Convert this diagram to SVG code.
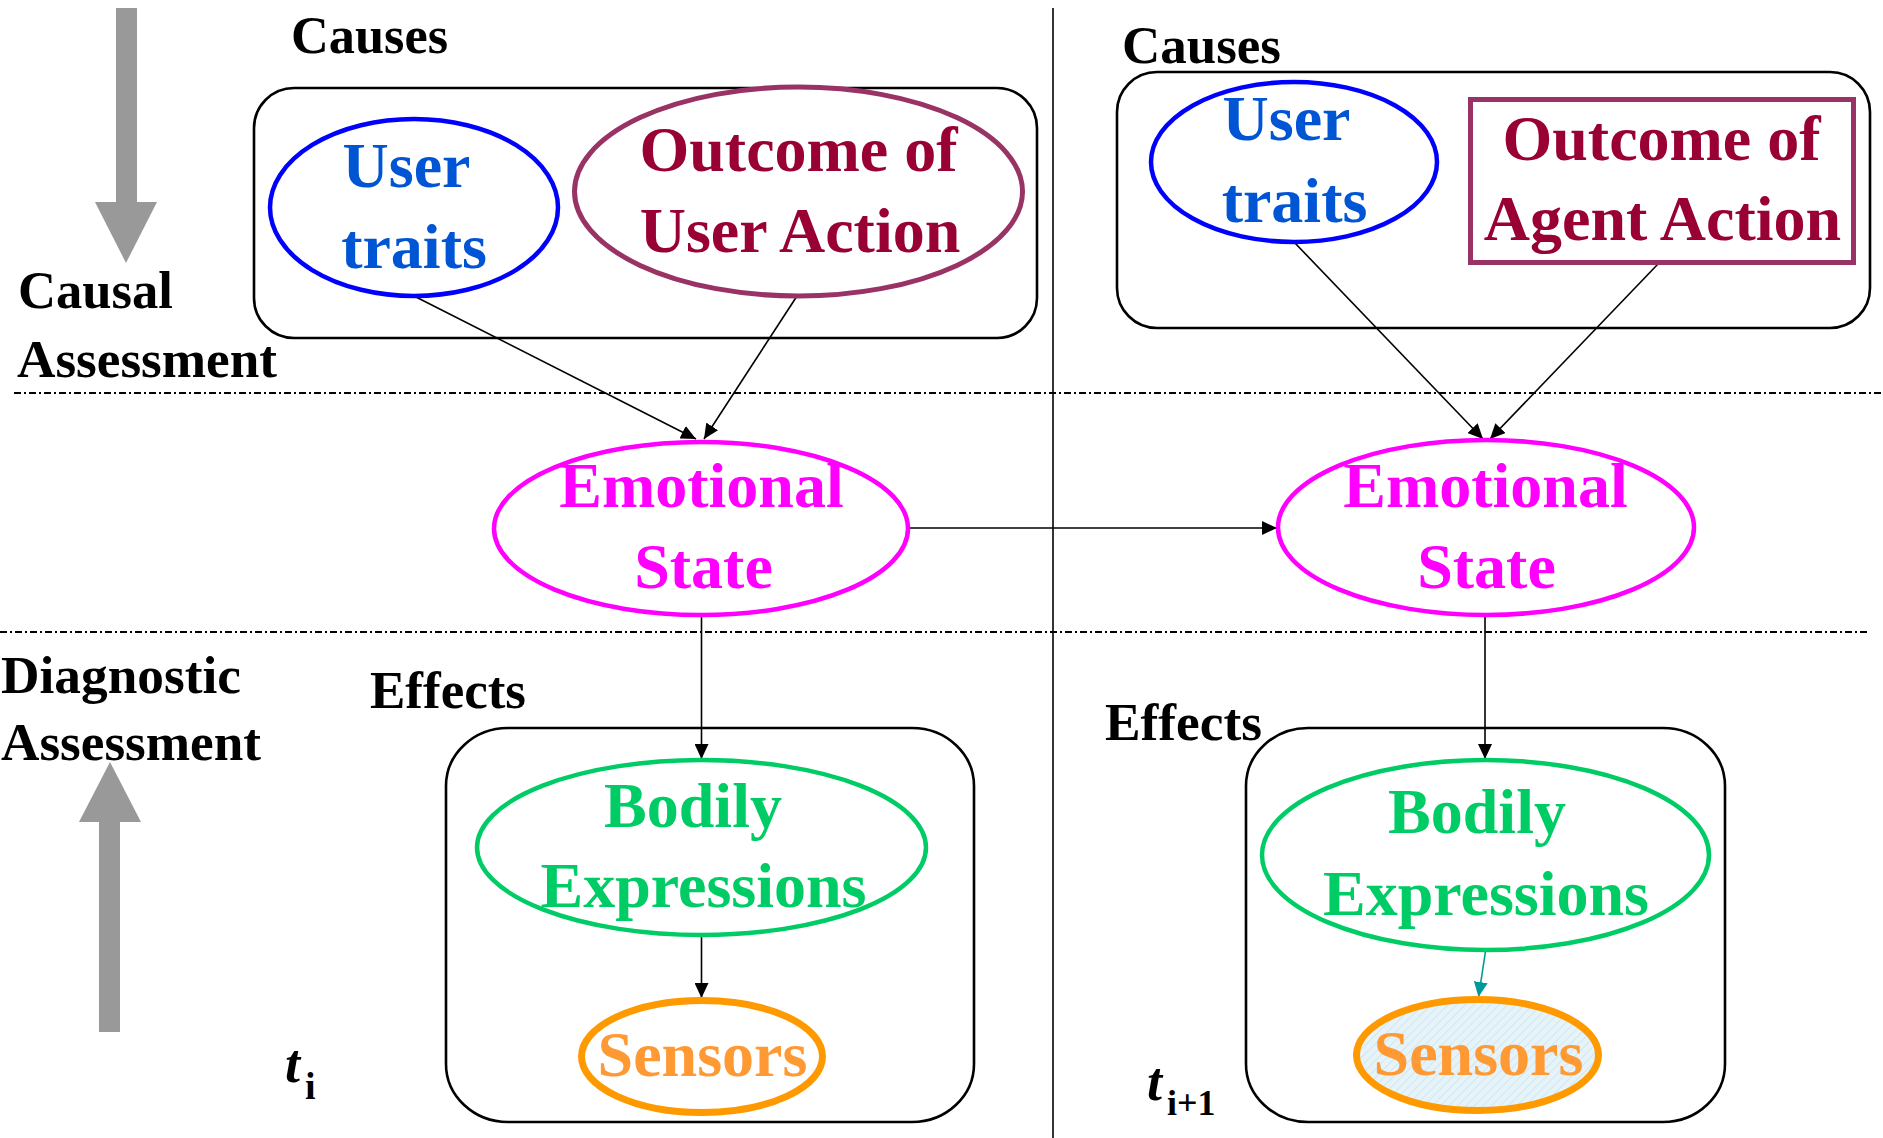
<svg xmlns="http://www.w3.org/2000/svg" width="1883" height="1138" viewBox="0 0 1883 1138">
  <style>
    text { font-family: "Liberation Serif", "Times New Roman", serif; font-weight: bold; }
    .lbl { font-size: 53px; fill: #000; }
    .node { font-size: 64px; text-anchor: middle; }
    .box { fill: none; stroke: #000; stroke-width: 2.6; }
    .edge { fill: none; stroke: #000; stroke-width: 1.6; }
    .sep { fill: none; stroke: #000; stroke-width: 2; stroke-dasharray: 7 3 2 3; }
    .trait { fill: #fff; stroke: #0000FF; stroke-width: 4.5; }
    .trait-t { fill: #0055D4; }
    .outcome { fill: #fff; stroke: #993366; stroke-width: 5; }
    .outcome-t { fill: #990033; }
    .emo { fill: #fff; stroke: #FF00FF; stroke-width: 4.5; }
    .emo-t { fill: #FF00FF; }
    .body { fill: #fff; stroke: #00CC66; stroke-width: 4.5; }
    .body-t { fill: #00CC66; }
    .sensor { fill: #fff; stroke: #FF9900; stroke-width: 7; }
    .sensor-t { fill: #FF9933; }
  </style>
  <defs>
    <marker id="arrow" markerUnits="userSpaceOnUse" markerWidth="16" markerHeight="14" refX="15" refY="7" orient="auto">
      <path d="M0,0 L15,7 L0,14 z" fill="#000"/>
    </marker>
    <marker id="arrow-teal" markerUnits="userSpaceOnUse" markerWidth="16" markerHeight="14" refX="15" refY="7" orient="auto">
      <path d="M0,0 L15,7 L0,14 z" fill="#009999"/>
    </marker>
    <pattern id="hatch" patternUnits="userSpaceOnUse" width="6" height="6" patternTransform="rotate(45)">
      <rect width="6" height="6" fill="#E6F3F9"/>
      <line x1="0" y1="0" x2="0" y2="6" stroke="#C9E3EF" stroke-width="1.5"/>
    </pattern>
  </defs>

  <rect width="1883" height="1138" fill="#fff"/>

  <!-- direction arrows in the margin -->
  <g id="causal-direction" fill="#999999">
    <rect x="116" y="8" width="21" height="195"/>
    <polygon points="95,202 157,202 126,263"/>
  </g>
  <g id="diagnostic-direction" fill="#999999">
    <rect x="99" y="821" width="21" height="211"/>
    <polygon points="79,822 141,822 110,762"/>
  </g>

  <!-- time slice divider and assessment separators -->
  <g id="guides">
    <line x1="1053" y1="8" x2="1053" y2="1138" stroke="#000" stroke-width="1.6"/>
    <line class="sep" x1="14" y1="393" x2="1883" y2="393"/>
    <line class="sep" x1="0" y1="632" x2="1870" y2="632"/>
  </g>

  <!-- side labels -->
  <g id="labels">
    <text class="lbl" x="291" y="53" textLength="157" lengthAdjust="spacingAndGlyphs">Causes</text>
    <text class="lbl" x="1122" y="63" textLength="159" lengthAdjust="spacingAndGlyphs">Causes</text>
    <text class="lbl" x="18" y="308" textLength="155" lengthAdjust="spacingAndGlyphs">Causal</text>
    <text class="lbl" x="17" y="377" textLength="260" lengthAdjust="spacingAndGlyphs">Assessment</text>
    <text class="lbl" x="1" y="693" textLength="240" lengthAdjust="spacingAndGlyphs">Diagnostic</text>
    <text class="lbl" x="1" y="760" textLength="260" lengthAdjust="spacingAndGlyphs">Assessment</text>
    <text class="lbl" x="370" y="708" textLength="156" lengthAdjust="spacingAndGlyphs">Effects</text>
    <text class="lbl" x="1105" y="740" textLength="157" lengthAdjust="spacingAndGlyphs">Effects</text>
    <text x="285" y="1082" font-size="54" font-style="italic">t</text>
    <text x="305" y="1099" font-size="38">i</text>
    <text x="1147" y="1100" font-size="54" font-style="italic">t</text>
    <text x="1167" y="1115" font-size="36">i+1</text>
  </g>

  <!-- grouping boxes -->
  <g id="causes-box-ti"><rect class="box" x="254" y="88" width="783" height="250" rx="40" ry="40"/></g>
  <g id="causes-box-ti1"><rect class="box" x="1117" y="72" width="753" height="256" rx="40" ry="40"/></g>
  <g id="effects-box-ti"><rect class="box" x="446" y="728" width="528" height="394" rx="62" ry="58"/></g>
  <g id="effects-box-ti1"><rect class="box" x="1246" y="728" width="479" height="394" rx="62" ry="58"/></g>

  <!-- connectors -->
  <g id="connectors">
    <line class="edge" x1="414" y1="296" x2="696" y2="439" marker-end="url(#arrow)"/>
    <line class="edge" x1="797" y1="296" x2="704" y2="439" marker-end="url(#arrow)"/>
    <line class="edge" x1="1294" y1="242" x2="1483" y2="439" marker-end="url(#arrow)"/>
    <line class="edge" x1="1658" y1="264" x2="1490" y2="439" marker-end="url(#arrow)"/>
    <line class="edge" x1="910" y1="528" x2="1277" y2="528" marker-end="url(#arrow)"/>
    <line class="edge" x1="701.5" y1="617" x2="701.5" y2="759" marker-end="url(#arrow)"/>
    <line class="edge" x1="1485" y1="617" x2="1485" y2="759" marker-end="url(#arrow)"/>
    <line class="edge" x1="701.5" y1="937" x2="701.5" y2="998" marker-end="url(#arrow)"/>
    <line x1="1485.4" y1="952" x2="1478.5" y2="997" stroke="#009999" stroke-width="1.6" marker-end="url(#arrow-teal)"/>
  </g>

  <!-- time slice t_i -->
  <g id="user-traits-ti">
    <ellipse class="trait" cx="414" cy="207.5" rx="144" ry="88.5"/>
    <text class="node trait-t" x="406.5" y="187">User</text>
    <text class="node trait-t" x="414" y="268">traits</text>
  </g>
  <g id="outcome-user-action">
    <ellipse class="outcome" cx="798.5" cy="191.5" rx="224" ry="104.5"/>
    <text class="node outcome-t" x="798.5" y="171">Outcome of</text>
    <text class="node outcome-t" x="800" y="252">User Action</text>
  </g>
  <g id="emotional-state-ti">
    <ellipse class="emo" cx="701" cy="528.5" rx="207" ry="86.5"/>
    <text class="node emo-t" x="701.5" y="507">Emotional</text>
    <text class="node emo-t" x="703.5" y="588">State</text>
  </g>
  <g id="bodily-expressions-ti">
    <ellipse class="body" cx="701.5" cy="847.5" rx="224.5" ry="87.5"/>
    <text class="node body-t" x="693" y="827">Bodily</text>
    <text class="node body-t" x="703.5" y="907">Expressions</text>
  </g>
  <g id="sensors-ti">
    <ellipse class="sensor" cx="702" cy="1056.5" rx="120.5" ry="56"/>
    <text class="node sensor-t" x="702.5" y="1076">Sensors</text>
  </g>

  <!-- time slice t_i+1 -->
  <g id="user-traits-ti1">
    <ellipse class="trait" cx="1294" cy="162" rx="143" ry="80"/>
    <text class="node trait-t" x="1286.5" y="140">User</text>
    <text class="node trait-t" x="1294.5" y="222">traits</text>
  </g>
  <g id="outcome-agent-action">
    <rect class="outcome" x="1470.5" y="99.5" width="383" height="163"/>
    <text class="node outcome-t" x="1661.5" y="160">Outcome of</text>
    <text class="node outcome-t" x="1662.5" y="240">Agent Action</text>
  </g>
  <g id="emotional-state-ti1">
    <ellipse class="emo" cx="1486" cy="527.5" rx="208" ry="87.5"/>
    <text class="node emo-t" x="1485.5" y="507">Emotional</text>
    <text class="node emo-t" x="1486.5" y="588">State</text>
  </g>
  <g id="bodily-expressions-ti1">
    <ellipse class="body" cx="1485.5" cy="855" rx="223.5" ry="95"/>
    <text class="node body-t" x="1477" y="833">Bodily</text>
    <text class="node body-t" x="1486" y="915">Expressions</text>
  </g>
  <g id="sensors-ti1">
    <ellipse class="sensor" cx="1477.5" cy="1055" rx="121" ry="55.5" fill="url(#hatch)" style="fill:url(#hatch)"/>
    <text class="node sensor-t" x="1478.5" y="1075">Sensors</text>
  </g>
</svg>
